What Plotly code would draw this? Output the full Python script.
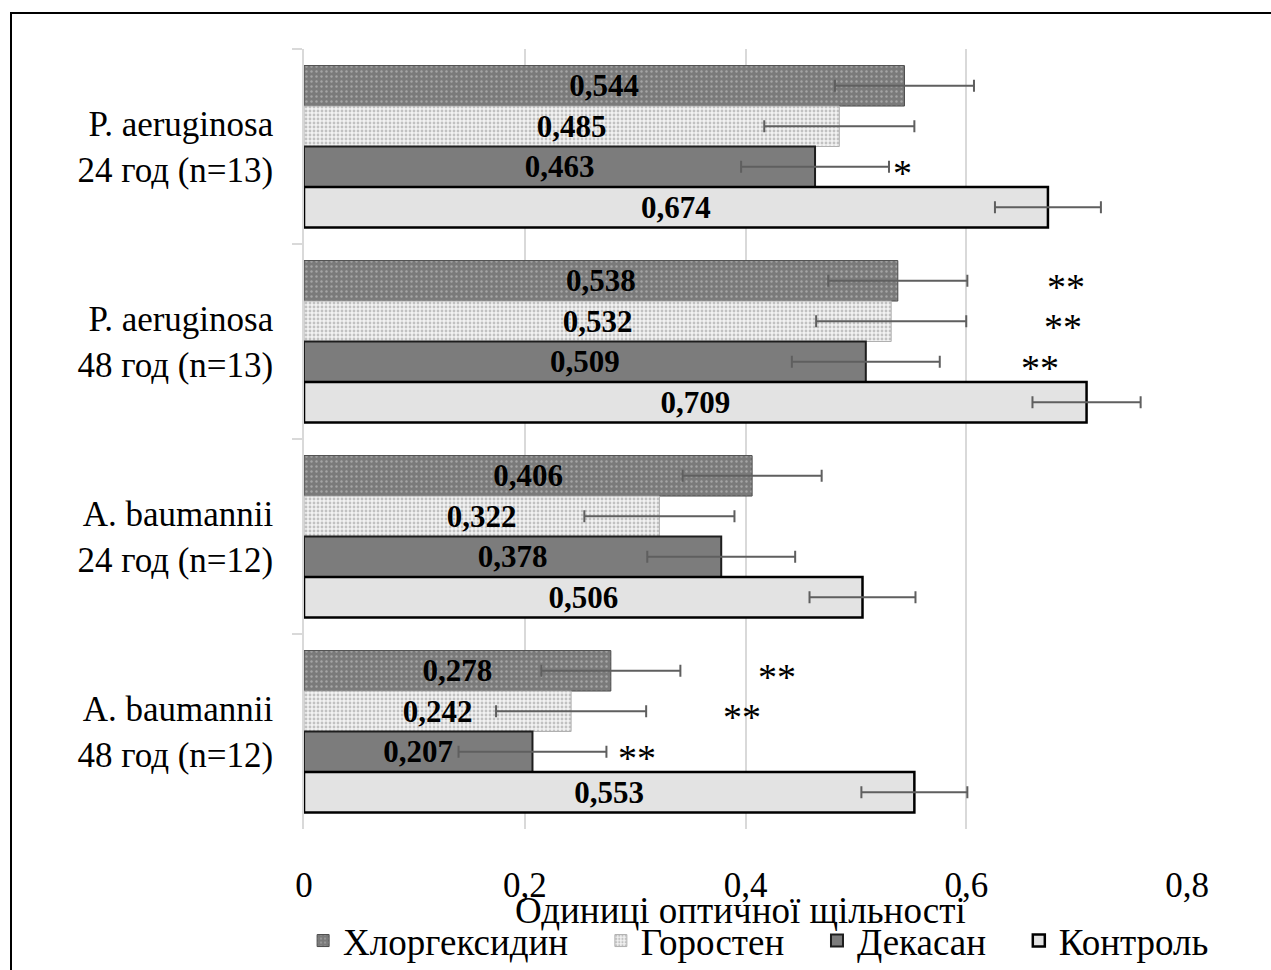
import plotly.graph_objects as go

categories = [
    "P. aeruginosa<br>24 год (n=13)",
    "P. aeruginosa<br>48 год (n=13)",
    "A. baumannii<br>24 год (n=12)",
    "A. baumannii<br>48 год (n=12)",
]
series_names = ["Хлоргексидин", "Горостен", "Декасан", "Контроль"]

chlorhexidine = [0.544, 0.538, 0.406, 0.278]
gorosten = [0.485, 0.532, 0.322, 0.242]
decasan = [0.463, 0.509, 0.378, 0.207]
control = [0.674, 0.709, 0.506, 0.553]

err_chlorhexidine = [0.063, 0.063, 0.063, 0.063]
err_gorosten = [0.068, 0.068, 0.068, 0.068]
err_decasan = [0.067, 0.067, 0.067, 0.067]
err_control = [0.048, 0.049, 0.048, 0.048]

# significance marks: category index, series index, x value, text
sig_category = [0, 1, 1, 1, 3, 3, 3]
sig_series = [2, 0, 1, 2, 0, 1, 2]
sig_x = [0.542, 0.690, 0.688, 0.667, 0.4285, 0.397, 0.302]
sig_text = ["*", "**", "**", "**", "**", "**", "**"]

x_ticks = [0, 0.2, 0.4, 0.6, 0.8]
x_title = "Одиниці оптичної щільності"

values = [chlorhexidine, gorosten, decasan, control]
errors = [err_chlorhexidine, err_gorosten, err_decasan, err_control]

FONT = "Liberation Serif, Times New Roman, serif"

styles = [
    dict(color="#7a7a7a",
         pattern=dict(shape=".", size=5, solidity=0.18, fgcolor="#cfcfcf", fillmode="overlay"),
         line=dict(color="#4a4a4a", width=1)),
    dict(color="#f2f2f2",
         pattern=dict(shape=".", size=4, solidity=0.4, fgcolor="#8f8f8f", fillmode="overlay"),
         line=dict(color="#b0b0b0", width=1)),
    dict(color="#7c7c7c", line=dict(color="#1e1e1e", width=2)),
    dict(color="#e3e3e3", line=dict(color="#000000", width=2.5)),
]

BARGAP = 0.17
PAD = "\u00a0\u00a0\u00a0"

fig = go.Figure()
for k, (name, vals, errs, st) in enumerate(zip(series_names, values, errors, styles)):
    fig.add_trace(go.Bar(
        y=categories, x=vals, name=name + (PAD if k < len(series_names) - 1 else ""),
        orientation="h",
        marker=st,
        error_x=dict(type="data", array=errs, color="#5f5f5f", thickness=2, width=6),
        texttemplate="%{x:.3f}", textposition="inside", insidetextanchor="middle",
        constraintext="none", textangle=0,
        textfont=dict(family=FONT, size=31, color="black", weight="bold"),
    ))

n_series = len(series_names)
bw = (1 - BARGAP) / n_series
annotations = []
for c, s, xv, t in zip(sig_category, sig_series, sig_x, sig_text):
    yv = c - (1 - BARGAP) / 2 + (s + 0.5) * bw
    annotations.append(dict(x=xv, y=yv, xref="x", yref="y", text=t, showarrow=False,
                            font=dict(family=FONT, size=38, color="black"),
                            xanchor="center", yanchor="middle", yshift=-6))

L, R, T, B = 304, 84, 49, 141
W, H = 1271, 970
pw, ph = W - L - R, H - T - B

def px_x(p):
    return (p - L) / pw

def px_y(p):
    return (H - B - p) / ph

annotations.append(dict(x=0.494, y=px_y(910), xref="paper", yref="paper", text=x_title,
                        showarrow=False, font=dict(family=FONT, size=37, color="black"),
                        xanchor="center", yanchor="middle"))

border = dict(color="black", width=2)
fig.update_layout(
    width=W, height=H,
    margin=dict(l=L, r=R, t=T, b=B, pad=0, autoexpand=False),
    barmode="group", bargap=BARGAP, bargroupgap=0,
    separators=", ",
    paper_bgcolor="white", plot_bgcolor="white",
    font=dict(family=FONT, size=32, color="black"),
    showlegend=True,
    legend=dict(orientation="h", x=-0.001, xanchor="left", y=px_y(941), yanchor="middle",
                font=dict(family=FONT, size=37, color="black"), traceorder="normal",
                itemwidth=30, bgcolor="rgba(0,0,0,0)"),
    annotations=annotations,
    shapes=[
        dict(type="line", xref="paper", yref="paper", x0=px_x(11), x1=px_x(11),
             y0=px_y(1100), y1=px_y(13), line=border, layer="above"),
        dict(type="line", xref="paper", yref="paper", x0=px_x(10), x1=px_x(1400),
             y0=px_y(13), y1=px_y(13), line=border, layer="above"),
    ],
)
fig.update_xaxes(range=[0, 0.8], tickvals=x_ticks, showgrid=True, gridcolor="#d9d9d9", gridwidth=1.5,
                 zeroline=False, showline=False, ticks="", ticklabelstandoff=32, automargin=False,
                 tickfont=dict(family=FONT, size=35, color="black"))
fig.update_yaxes(autorange="reversed", showline=True, linecolor="#d9d9d9", linewidth=1.5,
                 ticks="outside", tickson="boundaries", ticklen=10, tickcolor="#d9d9d9", tickwidth=1.5,
                 ticklabelstandoff=22, showgrid=False, automargin=False,
                 tickfont=dict(family=FONT, size=35, color="black"))

fig.write_html("out.html")
